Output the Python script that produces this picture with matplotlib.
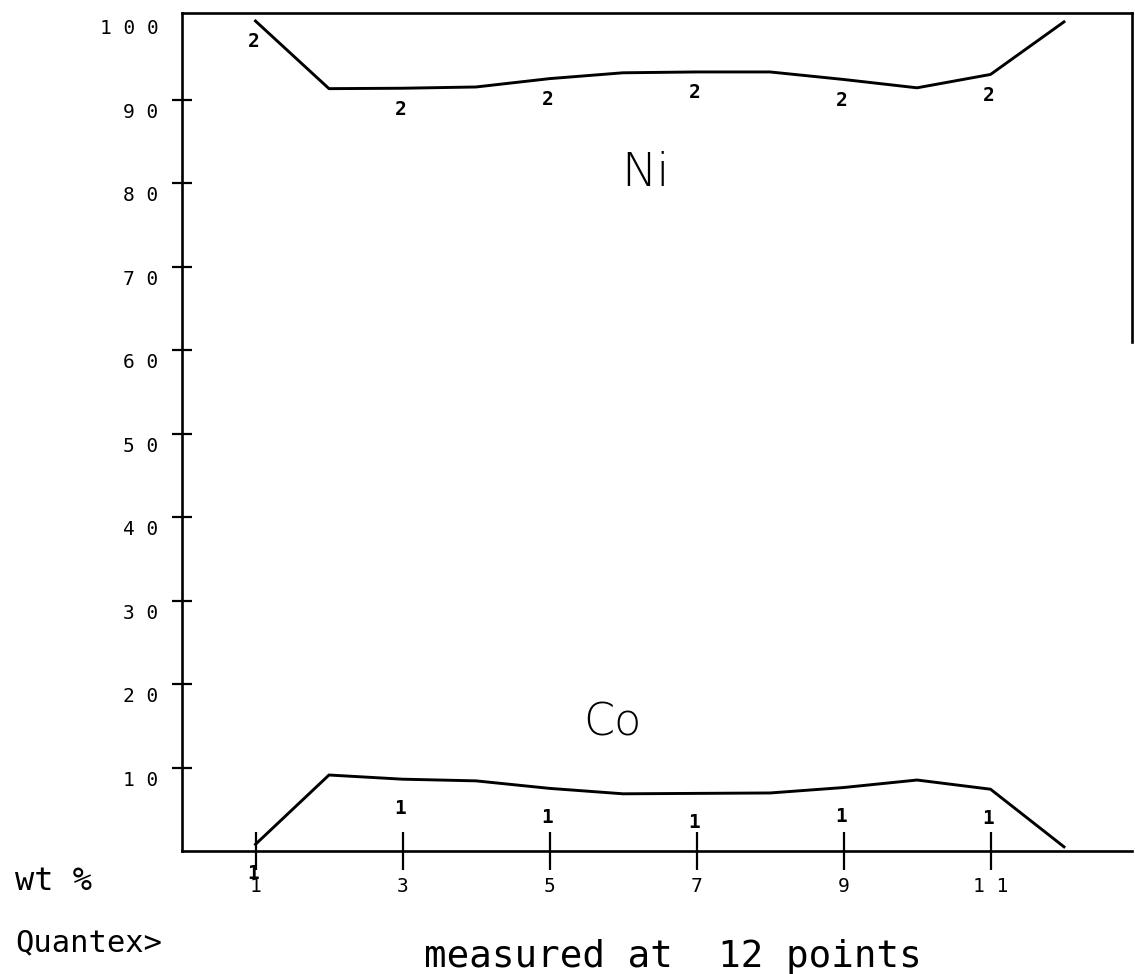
import matplotlib
matplotlib.use("Agg")
import matplotlib.pyplot as plt
from matplotlib.transforms import ScaledTranslation

# ---- data ----
points = [1, 2, 3, 4, 5, 6, 7, 8, 9, 10, 11, 12]
ni_wt = [99.4, 91.3, 91.35, 91.5, 92.5, 93.2, 93.3, 93.3, 92.4, 91.4, 93.0, 99.3]
co_wt = [0.8, 9.1, 8.6, 8.4, 7.5, 6.85, 6.9, 6.95, 7.6, 8.5, 7.4, 0.5]
label_points = [1, 3, 5, 7, 9, 11]
x_ticks = [1, 3, 5, 7, 9, 11]
x_tick_labels = ["1", "3", "5", "7", "9", "1 1"]
y_ticks = [10, 20, 30, 40, 50, 60, 70, 80, 90, 100]
y_tick_labels = ["1 0", "2 0", "3 0", "4 0", "5 0", "6 0", "7 0", "8 0", "9 0", "1 0 0"]

W, H = 1135, 974
fig = plt.figure(figsize=(W / 100, H / 100), dpi=100)
fig.patch.set_facecolor("white")

ax = fig.add_axes([182 / W, 123 / H, 950 / W, 838 / H])
ax.set_xlim(0, 12.925)
ax.set_ylim(0, 100.36)

mono = "DejaVu Sans Mono"

ax.plot(points, ni_wt, color="black", lw=2.1, solid_joinstyle="round")
ax.plot(points, co_wt, color="black", lw=2.1, solid_joinstyle="round")

for p in label_points:
    i = points.index(p)
    ax.annotate("2", (p, ni_wt[i]), xytext=(-1, -15), textcoords="offset points",
                ha="center", va="center", fontsize=14, family=mono,
                fontweight="bold", annotation_clip=False)
    ax.annotate("1", (p, co_wt[i]), xytext=(-2, -21), textcoords="offset points",
                ha="center", va="center", fontsize=14, family=mono,
                fontweight="bold", annotation_clip=False)

ax.text(6.3, 81.2, "Ni", ha="center", va="center", fontsize=34,
        family="DejaVu Sans", fontweight="light")
ax.text(5.85, 15.3, "Co", ha="center", va="center", fontsize=32,
        family="DejaVu Sans", fontweight="light")

# spines
for s in ax.spines.values():
    s.set_linewidth(1.9)
    s.set_color("black")
ax.spines["right"].set_bounds(61, 100.36)

ax.set_xticks(x_ticks)
ax.set_xticklabels(x_tick_labels, family=mono, fontsize=14)
ax.set_yticks(y_ticks)
ax.set_yticklabels(y_tick_labels, family=mono, fontsize=14)
ax.tick_params(axis="x", direction="inout", length=27, width=1.6, pad=5)
ax.tick_params(axis="y", direction="inout", length=14, width=1.6, pad=10)
shift = ScaledTranslation(0, -3 / 100, fig.dpi_scale_trans)
for t in ax.get_yticklabels():
    t.set_va("top")
    t.set_transform(t.get_transform() + shift)
ax.yaxis.get_major_ticks()[-1].tick1line.set_visible(False)

fig.text(15 / W, 1 - 881 / H, "wt %", ha="left", va="center", family=mono, fontsize=23)
fig.text(15 / W, 1 - 943 / H, "Quantex>", ha="left", va="center", family=mono, fontsize=22)
fig.text(424 / W, 1 - 967 / H, "measured at  12 points", ha="left", va="baseline",
         family=mono, fontsize=27)

fig.savefig("out.png", dpi=100, facecolor="white")
